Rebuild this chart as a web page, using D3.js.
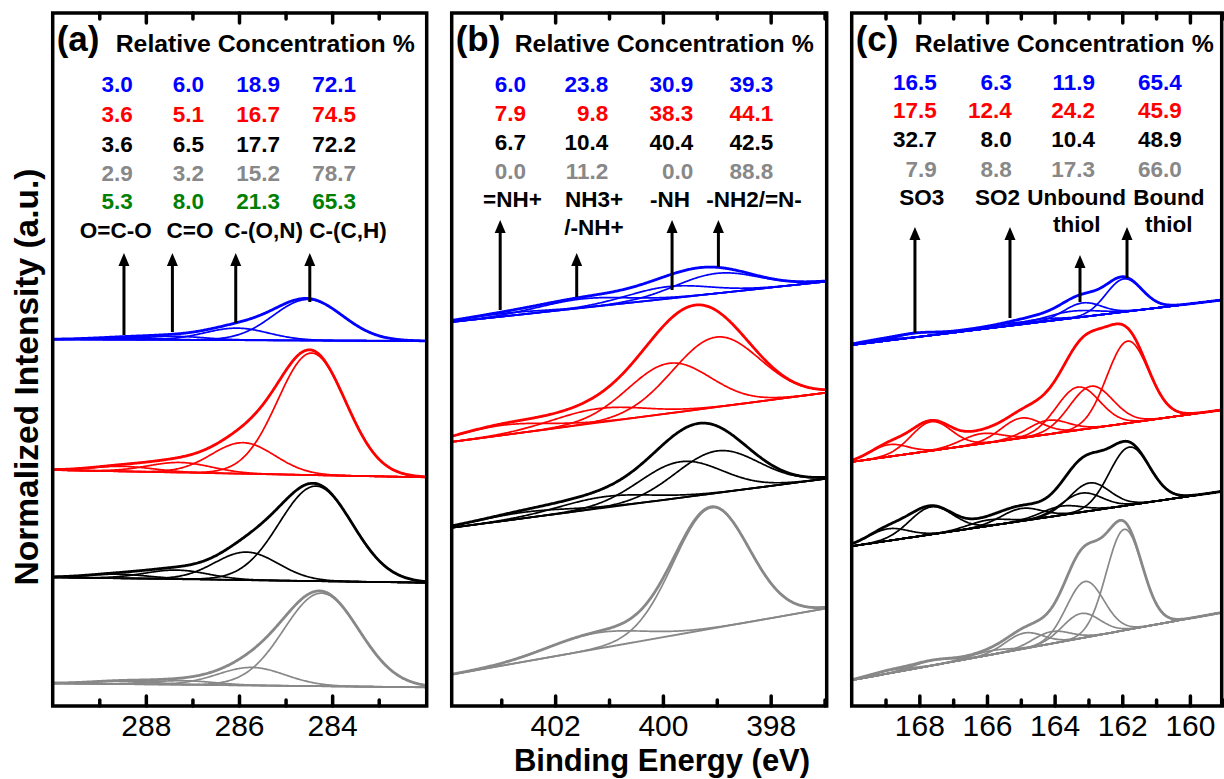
<!DOCTYPE html>
<html>
<head>
<meta charset="utf-8">
<script src="https://cdn.jsdelivr.net/npm/d3@7"></script>
<style>
  html, body { margin: 0; padding: 0; background: #fff; }
  svg { display: block; font-family: "Liberation Sans", Arial, sans-serif; }
</style>
</head>
<body>
<svg id="chart" width="1224" height="779"></svg>
<script>

// ---- data ----

const panelTags = ['(a)', '(b)', '(c)'];

// relative concentration tables, one row per sample (blue, red, black, grey, green)
const concC1s = [
  ['3.0', '6.0', '18.9', '72.1'],
  ['3.6', '5.1', '16.7', '74.5'],
  ['3.6', '6.5', '17.7', '72.2'],
  ['2.9', '3.2', '15.2', '78.7'],
  ['5.3', '8.0', '21.3', '65.3']
];
const concN1s = [
  ['6.0', '23.8', '30.9', '39.3'],
  ['7.9', '9.8', '38.3', '44.1'],
  ['6.7', '10.4', '40.4', '42.5'],
  ['0.0', '11.2', '0.0', '88.8']
];
const concS2p = [
  ['16.5', '6.3', '11.9', '65.4'],
  ['17.5', '12.4', '24.2', '45.9'],
  ['32.7', '8.0', '10.4', '48.9'],
  ['7.9', '8.8', '17.3', '66.0']
];

// species names (multi-line labels split by '|')
const speciesC1s = ['O=C-O', 'C=O', 'C-(O,N)', 'C-(C,H)'];
const speciesN1s = ['=NH+', 'NH3+|/-NH+', '-NH', '-NH2/=N-'];
const speciesS2p = ['SO3', 'SO2', 'Unbound|thiol', 'Bound|thiol'];

// binding energy of each species arrow (eV)
const arrowC1s = [288.47, 287.43, 286.07, 284.48];
const arrowN1s = [403.02, 401.6, 399.83, 398.97];
const arrowS2p = [168.13, 165.32, 163.25, 161.86];

// arrow start / end intensity (a.u.)
const arrowSpanC1s = [[371, 453], [374, 453], [383, 453], [404, 453]];
const arrowSpanN1s = [[396, 486], [409, 453], [416, 486], [439, 486]];
const arrowSpanS2p = [[373, 479], [388, 479], [404, 451], [428, 479]];

// tick values (eV)
const majorC1s = [288, 286, 284];
const minorC1s = [289, 287, 285, 283];
const majorN1s = [402, 400, 398];
const minorN1s = [403, 401, 399, 397];
const majorS2p = [168, 166, 164, 162, 160];
const minorS2p = [169, 167, 165, 163, 161, 159];

// linear background: intensity at left / right end of the window (stacked, a.u.)
const baseC1s = [[366.7, 365.0], [236.0, 228.7], [128.7, 123.3], [22.7, 18.7]];
const baseN1s = [[384.0, 424.5], [264.1, 313.4], [178.3, 227.4], [31.5, 97.7]];
const baseS2p = [[361.0, 406.0], [244.1, 296.1], [159.8, 214.6], [25.8, 93.5]];

// fitted components per sample: [centre eV, height a.u., FWHM eV]
const fitC1s = [
  [[288.5, 2, 1.6], [287.4, 3.5, 1.6], [286.05, 12, 1.6], [284.52, 41, 1.75]],
  [[288.5, 5, 1.6], [287.27, 10, 1.6], [285.91, 31, 1.6], [284.44, 122, 1.72]],
  [[288.6, 4, 1.6], [287.34, 9, 1.6], [285.84, 28, 1.6], [284.35, 95, 1.85]],
  [[288.5, 3, 1.6], [287.2, 4, 1.6], [285.73, 18, 1.7], [284.23, 93, 1.9]]
];
const fitN1s = [
  [[403.0, 3, 1.8], [401.5, 9, 1.9], [399.9, 12, 1.8], [399.0, 20, 1.8]],
  [[403.0, 10, 2.0], [401.2, 14, 2.0], [399.88, 50, 1.8], [399.01, 70, 1.9]],
  [[402.6, 6, 2.0], [401.08, 11, 2.0], [399.67, 36, 1.8], [398.99, 42, 1.8]],
  [[401.27, 16, 2.1], [399.1, 121, 1.65]]
];
const fitS2p = [
  [[169.3, 2, 1.4], [168.1, 4, 1.4], [166.5, 1.2, 1.4], [165.3, 2.5, 1.4],
   [164.5, 3, 1.4], [163.5, 7, 1.8], [163.17, 14, 1.3], [161.95, 33, 1.25]],
  [[168.9, 12, 1.3], [167.65, 29, 1.4], [166.17, 10, 1.4], [164.99, 20, 1.4],
   [164.2, 14, 1.4], [163.31, 43, 1.5], [162.92, 42, 1.5], [161.84, 82, 1.45]],
  [[168.93, 12, 1.4], [167.65, 27.5, 1.5], [165.97, 6, 1.4], [164.99, 12.6, 1.4],
   [163.8, 9, 1.4], [163.2, 19, 1.4], [162.97, 28, 1.4], [161.79, 58, 1.4]],
  [[168.9, 3, 1.4], [167.6, 5, 1.4], [165.9, 4, 1.4], [164.9, 15.6, 1.3],
   [164.1, 12, 1.3], [163.22, 24.7, 1.3], [163.1, 56, 1.3], [161.94, 101, 1.25]]
];


// ---- layout & style ----

const plotTop = 13;
const plotBottom = 706;

const sampleColors = ['#0000ff', '#ff0000', '#000000', '#888888', '#008000'];

const panels = [
  {
    tag: panelTags[0], left: 52.7, right: 426.7, domain: [290, 281.97],
    conc: concC1s, species: speciesC1s, arrows: arrowC1s, arrowSpan: arrowSpanC1s,
    major: majorC1s, minor: minorC1s, base: baseC1s, fit: fitC1s,
    rowY: [91.7, 121.7, 151.5, 180.5, 209], labelY: [237.7],
    colRight: [132.7, 204, 280, 356], labelX: [115.8, 190, 263.7, 348]
  },
  {
    tag: panelTags[1], left: 451.7, right: 826.7, domain: [403.92, 396.96],
    conc: concN1s, species: speciesN1s, arrows: arrowN1s, arrowSpan: arrowSpanN1s,
    major: majorN1s, minor: minorN1s, base: baseN1s, fit: fitN1s,
    rowY: [91.7, 120.7, 149.5, 178.5], labelY: [206.7, 235],
    colRight: [526, 608.3, 693.3, 773.3], labelX: [512.5, 594, 670, 754]
  },
  {
    tag: panelTags[2], left: 851.7, right: 1221.7, domain: [170, 159.06],
    conc: concS2p, species: speciesS2p, arrows: arrowS2p, arrowSpan: arrowSpanS2p,
    major: majorS2p, minor: minorS2p, base: baseS2p, fit: fitS2p,
    rowY: [89.5, 118, 147.3, 176.7], labelY: [205, 232],
    colRight: [936.7, 1011.7, 1095, 1181.7], labelX: [921.7, 997.5, 1076.7, 1168.8]
  }
];

const svg = d3.select('#chart');
const defs = svg.append('defs');

const y = d3.scaleLinear()
  .domain([0, plotBottom - plotTop])
  .range([plotBottom, plotTop]);


/**
 * Gaussian component value at energy e.
 * @param {Number} e
 * @param {Array} c [centre, height, fwhm]
 * @returns {Number}
 */
function gauss(e, c) {

  const d = (e - c[0]) / c[2];
  return c[1] * Math.exp(-4 * Math.LN2 * d * d);
}


/**
 * Draw one spectrum panel.
 * @param {Object} p
 * @param {Number} i
 */
function drawPanel(p, i) {

  const x = d3.scaleLinear().domain(p.domain).range([p.left, p.right]);
  const g = svg.append('g').attr('class', 'panel');

  const clipId = 'clip' + i;
  defs.append('clipPath')
    .attr('id', clipId)
    .append('rect')
    .attr('x', p.left)
    .attr('y', plotTop)
    .attr('width', p.right - p.left)
    .attr('height', plotBottom - plotTop);

  const energies = d3.range(0, 1.00001, 0.0025)
    .map(t => p.domain[0] + t * (p.domain[1] - p.domain[0]));

  const line = d3.line()
    .x(d => x(d[0]))
    .y(d => y(d[1]));

  const plot = g.append('g').attr('clip-path', 'url(#' + clipId + ')');

  p.fit.forEach((comps, s) => {

    const b = p.base[s];
    const bg = e => b[0] + (b[1] - b[0]) * (p.domain[0] - e) / (p.domain[0] - p.domain[1]);
    const color = sampleColors[s];

    comps.forEach(c => {
      plot.append('path')
        .datum(energies.map(e => [e, bg(e) + gauss(e, c)]))
        .attr('d', line)
        .attr('fill', 'none')
        .attr('stroke', color)
        .attr('stroke-width', 1.7);
    });

    plot.append('path')
      .datum(energies.map(e => [e, bg(e)]))
      .attr('d', line)
      .attr('fill', 'none')
      .attr('stroke', color)
      .attr('stroke-width', 1.9);

    plot.append('path')
      .datum(energies.map(e => [e, bg(e) + d3.sum(comps, c => gauss(e, c))]))
      .attr('d', line)
      .attr('fill', 'none')
      .attr('stroke', color)
      .attr('stroke-width', 2.8)
      .attr('stroke-linejoin', 'round');
  });

  // species arrows
  p.arrows.forEach((e, k) => {

    const ax = x(e);
    const tip = y(p.arrowSpan[k][1]);

    g.append('line')
      .attr('x1', ax)
      .attr('x2', ax)
      .attr('y1', y(p.arrowSpan[k][0]))
      .attr('y2', tip + 10)
      .attr('stroke', '#000')
      .attr('stroke-width', 3);

    g.append('path')
      .attr('d', `M${ax - 5.5},${tip + 13} L${ax},${tip} L${ax + 5.5},${tip + 13} Z`)
      .attr('fill', '#000');
  });

  // axes: bottom & top, major + minor, ticks inward
  const axisStyle = (sel) => {
    sel.select('.domain').remove();
    sel.selectAll('.tick line')
      .attr('stroke', '#000')
      .attr('stroke-width', 3.5)
      .attr('stroke-linecap', 'round');
  };

  g.append('g')
    .attr('transform', `translate(0,${plotBottom})`)
    .call(d3.axisBottom(x).tickValues(p.major).tickSize(-10).tickPadding(9).tickFormat(d3.format('d')))
    .call(axisStyle)
    .call(sel => sel.selectAll('.tick text')
      .attr('font-size', 30)
      .attr('font-family', '"Liberation Sans", Arial, sans-serif')
      .attr('fill', '#000'));

  g.append('g')
    .attr('transform', `translate(0,${plotBottom})`)
    .call(d3.axisBottom(x).tickValues(p.minor).tickSize(-6).tickFormat(''))
    .call(axisStyle);

  g.append('g')
    .attr('transform', `translate(0,${plotTop})`)
    .call(d3.axisTop(x).tickValues(p.major).tickSize(-10).tickFormat(''))
    .call(axisStyle);

  g.append('g')
    .attr('transform', `translate(0,${plotTop})`)
    .call(d3.axisTop(x).tickValues(p.minor).tickSize(-6).tickFormat(''))
    .call(axisStyle);

  g.append('rect')
    .attr('x', p.left)
    .attr('y', plotTop)
    .attr('width', p.right - p.left)
    .attr('height', plotBottom - plotTop)
    .attr('fill', 'none')
    .attr('stroke', '#000')
    .attr('stroke-width', 3.5);

  // header
  g.append('text')
    .attr('x', p.left + 4)
    .attr('y', 51)
    .attr('font-size', 35)
    .attr('font-weight', 'bold')
    .text(p.tag);

  g.append('text')
    .attr('x', p.left + 63)
    .attr('y', 52)
    .attr('font-size', 24.8)
    .attr('font-weight', 'bold')
    .text('Relative Concentration %');

  // concentration table
  p.conc.forEach((row, r) => {
    row.forEach((v, k) => {
      g.append('text')
        .attr('x', p.colRight[k])
        .attr('y', p.rowY[r])
        .attr('text-anchor', 'end')
        .attr('font-size', 22.5)
        .attr('font-weight', 'bold')
        .attr('fill', sampleColors[r])
        .text(v);
    });
  });

  p.species.forEach((name, k) => {
    name.split('|').forEach((part, l) => {
      g.append('text')
        .attr('x', p.labelX[k])
        .attr('y', p.labelY[l])
        .attr('text-anchor', 'middle')
        .attr('font-size', 22.5)
        .attr('font-weight', 'bold')
        .text(part);
    });
  });
}

panels.forEach(drawPanel);

svg.append('text')
  .attr('x', 662)
  .attr('y', 771)
  .attr('text-anchor', 'middle')
  .attr('font-size', 31)
  .attr('font-weight', 'bold')
  .text('Binding Energy (eV)');

svg.append('text')
  .attr('transform', 'translate(38,377) rotate(-90)')
  .attr('text-anchor', 'middle')
  .attr('font-size', 33.5)
  .attr('font-weight', 'bold')
  .text('Normalized Intensity (a.u.)');

</script>
</body>
</html>
